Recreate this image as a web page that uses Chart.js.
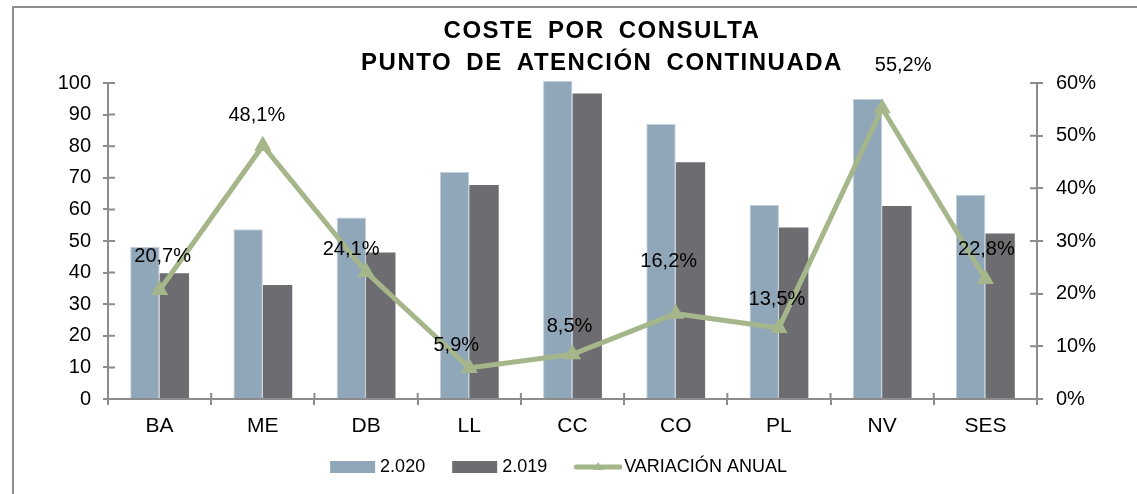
<!DOCTYPE html>
<html>
<head>
<meta charset="utf-8">
<script src="https://cdn.jsdelivr.net/npm/chart.js@4"></script>
<style>
  html, body { margin: 0; padding: 0; background: #fff; overflow: hidden; width: 1137px; height: 494px; }
  #frame { position: absolute; left: 12px; top: 6px; width: 1220px; height: 540px; border: 2px solid #8e8e8e; box-sizing: border-box; }
  #box { position: absolute; left: 14px; top: 8px; width: 1180px; height: 478px; }
</style>
</head>
<body>
<div id="frame"></div>
<div id="box"><canvas id="chart"></canvas></div>
<script>
// data
const titleLines = ['COSTE POR CONSULTA', 'PUNTO DE ATENCIÓN CONTINUADA'];
const categories = ['BA', 'ME', 'DB', 'LL', 'CC', 'CO', 'PL', 'NV', 'SES'];
const cost2020 = [48.2, 53.7, 57.4, 71.8, 100.6, 87.0, 61.5, 94.9, 64.6];
const cost2019 = [39.8, 36.1, 46.4, 67.7, 96.7, 74.9, 54.3, 61.1, 52.4];
const variation = [20.7, 48.1, 24.1, 5.9, 8.5, 16.2, 13.5, 55.2, 22.8];
const costTicks = [0, 10, 20, 30, 40, 50, 60, 70, 80, 90, 100];
const pctTicks = [0, 10, 20, 30, 40, 50, 60];

// where each % label sits relative to its point (dx, dy)
const labelNudge = [[3, -33], [-6, -30], [-15, -23], [-13, -22], [-3, -28], [-7, -52], [-2, -28], [21, -43], [1, -29]];

const BLUE = '#8FA7B9';
const DARK = '#6D6C71';
const GREEN = '#A5B68A';
const AXIS = '#8C8C8C';
const FONT = "'Liberation Sans', Arial, sans-serif";

Chart.defaults.font.family = FONT;
Chart.defaults.color = '#000';

const fmtPct = v => v.toFixed(1).replace('.', ',') + '%';

// legend swatches, drawn off-canvas; the coloured part is shifted right
// inside the image so the spacing matches excel's legend
function swatch(i) {
    const c = document.createElement('canvas');
    const ctx = c.getContext('2d');
    if (i < 2) {
        c.width = 56; c.height = 12;
        ctx.fillStyle = i === 0 ? BLUE : DARK;
        ctx.fillRect(10, 0, 45, 12);
    } else {
        c.width = 60; c.height = 16;
        ctx.strokeStyle = GREEN; ctx.fillStyle = GREEN;
        ctx.lineWidth = 5; ctx.lineCap = 'round';
        ctx.beginPath(); ctx.moveTo(14, 8); ctx.lineTo(58, 8); ctx.stroke();
        ctx.beginPath(); ctx.moveTo(36, 3); ctx.lineTo(41, 11); ctx.lineTo(31, 11); ctx.closePath(); ctx.fill();
    }
    return c;
}

const titlePlugin = {
    id: 'twoLineTitle',
    afterDraw(chart) {
        const ctx = chart.ctx;
        ctx.save();
        ctx.font = 'bold 24px ' + FONT;
        ctx.fillStyle = '#000';
        ctx.textAlign = 'center';
        ctx.textBaseline = 'alphabetic';
        if ('letterSpacing' in ctx) ctx.letterSpacing = '1.5px';
        if ('wordSpacing' in ctx) ctx.wordSpacing = '6px';
        ctx.fillText(titleLines[0], 588, 30);
        ctx.fillText(titleLines[1], 588, 62);
        ctx.restore();
    }
};

const valueLabels = {
    id: 'valueLabels',
    afterDatasetsDraw(chart) {
        const ctx = chart.ctx;
        const meta = chart.getDatasetMeta(2);
        ctx.save();
        ctx.font = '20px ' + FONT;
        ctx.fillStyle = '#000';
        ctx.textAlign = 'center';
        ctx.textBaseline = 'middle';
        meta.data.forEach((pt, i) => {
            const [dx, dy] = labelNudge[i];
            ctx.fillText(fmtPct(variation[i]), pt.x + dx, pt.y + dy);
        });
        ctx.restore();
    }
};

// excel style "cross" tick marks: the inner half
const crossTicks = {
    id: 'crossTicks',
    afterDraw(chart) {
        const { ctx, chartArea: a, scales } = chart;
        ctx.save();
        ctx.strokeStyle = AXIS;
        ctx.lineWidth = 2;
        ctx.beginPath();
        scales.y.ticks.forEach(t => {
            const y = scales.y.getPixelForValue(t.value);
            ctx.moveTo(a.left, y); ctx.lineTo(a.left + 7, y);
        });
        scales.y1.ticks.forEach(t => {
            const y = scales.y1.getPixelForValue(t.value);
            ctx.moveTo(a.right - 7, y); ctx.lineTo(a.right, y);
        });
        const half = (scales.x.getPixelForValue(1) - scales.x.getPixelForValue(0)) / 2;
        for (let i = 0; i <= categories.length; i++) {
            const x = scales.x.getPixelForValue(i) - half;
            ctx.moveTo(x, a.bottom - 6); ctx.lineTo(x, a.bottom);
        }
        ctx.stroke();
        ctx.restore();
    }
};

new Chart(document.getElementById('chart'), {
    type: 'bar',
    data: {
        labels: categories,
        datasets: [
            {
                label: '2.020',
                data: cost2020,
                backgroundColor: BLUE,
                borderColor: '#C3CFD9',
                borderWidth: 1,
                yAxisID: 'y',
                clip: false,
                categoryPercentage: 0.57,
                barPercentage: 1
            },
            {
                label: '2.019',
                data: cost2019,
                backgroundColor: DARK,
                yAxisID: 'y',
                categoryPercentage: 0.57,
                barPercentage: 1
            },
            {
                type: 'line',
                label: 'VARIACIÓN ANUAL',
                data: variation,
                yAxisID: 'y1',
                order: -1,
                borderColor: GREEN,
                backgroundColor: GREEN,
                borderWidth: 5,
                pointStyle: 'triangle',
                pointRadius: 8,
                pointBorderWidth: 2,
                pointBackgroundColor: GREEN,
                pointBorderColor: GREEN,
                tension: 0
            }
        ]
    },
    options: {
        responsive: true,
        maintainAspectRatio: false,
        animation: false,
        devicePixelRatio: 1,
        layout: { padding: { left: 0, right: 96, top: 75, bottom: 0 } },
        scales: {
            x: {
                grid: { drawOnChartArea: false, tickLength: 6, color: AXIS, lineWidth: 2 },
                border: { color: AXIS, width: 2 },
                ticks: { font: { size: 21 }, padding: 9 },
                afterFit: s => { s.height = 37; }
            },
            y: {
                position: 'left',
                min: 0,
                max: 100,
                afterBuildTicks: s => { s.ticks = costTicks.map(v => ({ value: v })); },
                grid: { drawOnChartArea: false, tickLength: 5, color: AXIS, lineWidth: 2 },
                border: { color: AXIS, width: 2 },
                ticks: { font: { size: 20 }, padding: 12 },
                afterFit: s => { s.width = 94; }
            },
            y1: {
                position: 'right',
                min: 0,
                max: 60,
                afterBuildTicks: s => { s.ticks = pctTicks.map(v => ({ value: v })); },
                grid: { drawOnChartArea: false, tickLength: 6, color: AXIS, lineWidth: 2 },
                border: { color: AXIS, width: 2 },
                ticks: { font: { size: 20 }, padding: 13, callback: v => v + '%' },
                afterFit: s => { s.width = 61; }
            }
        },
        plugins: {
            title: { display: false },
            tooltip: { enabled: false },
            legend: {
                position: 'bottom',
                labels: {
                    usePointStyle: true,
                    pointStyleWidth: 46,
                    padding: 22,
                    font: { size: 18 },
                    generateLabels(chart) {
                        return Chart.defaults.plugins.legend.labels.generateLabels(chart)
                            .sort((a, b) => a.datasetIndex - b.datasetIndex)
                            .map(item => ({ ...item, pointStyle: swatch(item.datasetIndex) }));
                    }
                }
            }
        }
    },
    plugins: [titlePlugin, valueLabels, crossTicks]
});
</script>
</body>
</html>
